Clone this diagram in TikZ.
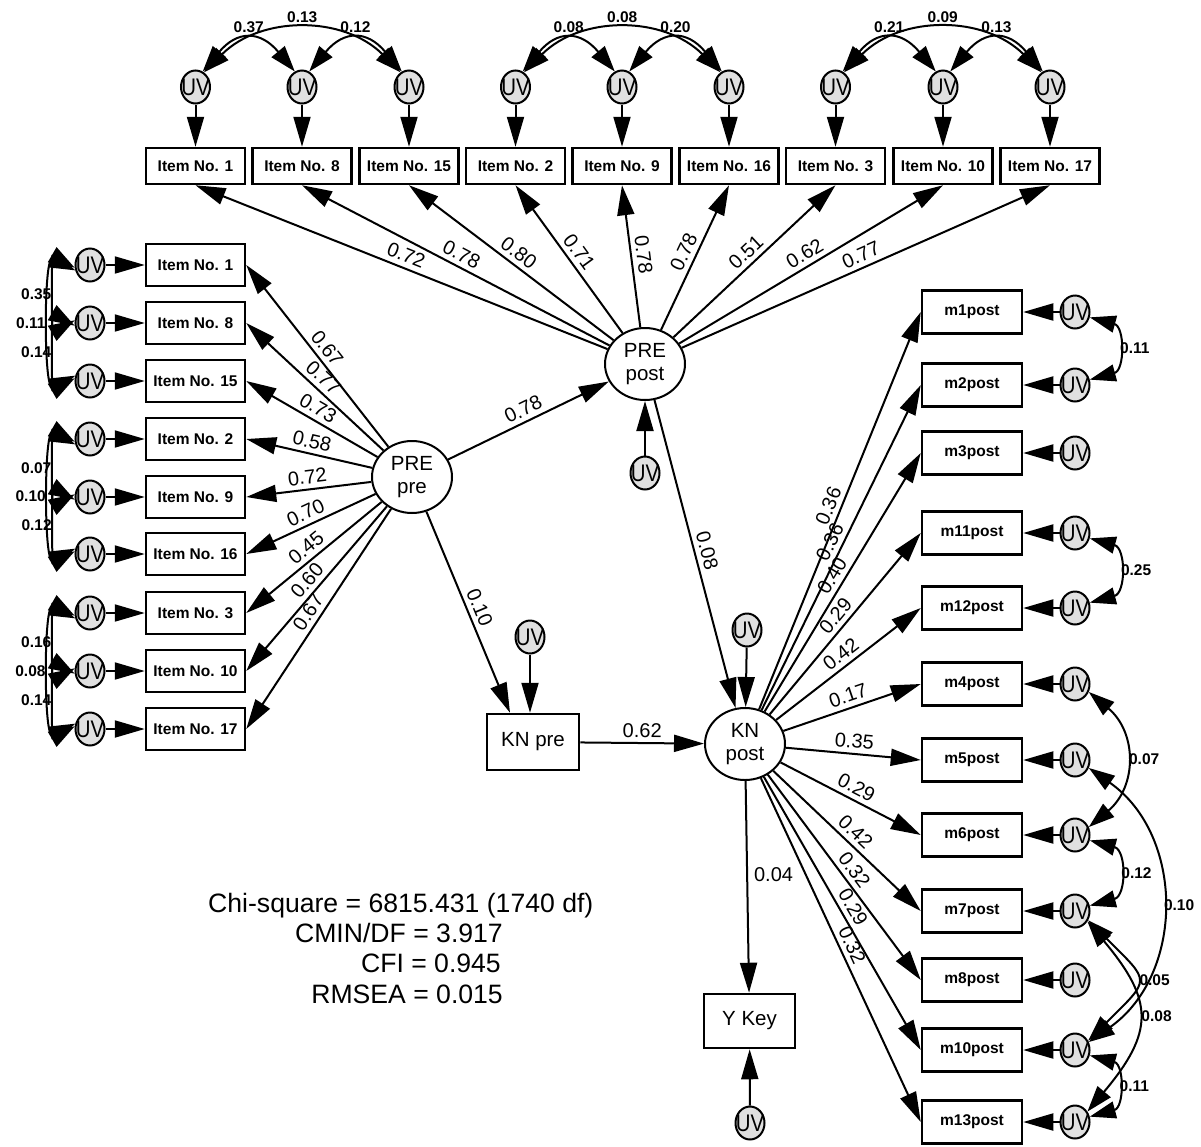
\documentclass[tikz,border=0pt]{standalone}
\usepackage{fontspec}
\setmainfont{Liberation Sans}
\usetikzlibrary{shapes.geometric,arrows.meta}
\definecolor{uvgray}{RGB}{224,224,224}
\newcommand{\uvtext}{\makebox[0pt]{\smash{\raisebox{-0.358em}{\scalebox{0.85}[1]{UV}}}}}
\begin{document}
\begin{tikzpicture}[x=1pt,y=-1pt,
  arr/.style={line width=2pt,-{Triangle[length=30pt,width=17pt]}},
  cov/.style={line width=2pt,{Triangle[length=26pt,width=17pt]}-{Triangle[length=26pt,width=17pt]}},
  boxbase/.style={draw,line width=2.5pt,inner sep=0pt,font=\bfseries\fontsize{15.5}{16}\selectfont},
  topbox/.style={boxbase,minimum width=99pt,minimum height=36pt},
  leftbox/.style={boxbase,minimum width=99pt,minimum height=42pt},
  mbox/.style={boxbase,minimum width=100pt,minimum height=43pt},
  kbox/.style={draw,line width=2.5pt,inner sep=0pt,font=\fontsize{20.5}{23}\selectfont},
  uv/.style={ellipse,draw,fill=uvgray,line width=2pt,minimum width=29pt,minimum height=33pt,inner sep=0pt,font=\fontsize{24}{24}\selectfont},
  lat/.style={ellipse,draw,line width=2pt,minimum width=80pt,minimum height=72pt,inner sep=0pt,align=center,font=\fontsize{20.5}{23}\selectfont},
  elab/.style={pos=0.5,sloped,above,inner sep=4.5pt,font=\fontsize{20}{20}\selectfont},
  clab/.style={inner sep=0pt,font=\bfseries\fontsize{15.5}{16}\selectfont},
  stat/.style={inner sep=0pt,font=\fontsize{26.6}{30}\selectfont}
]
\useasboundingbox (0,0) rectangle (1201,1146);

% latent variables and central boxes
\node[lat] (pp) at (412,477) {PRE\\pre};
\node[lat] (ppo) at (645,364) {PRE\\post};
\node[lat] (knp) at (745,744) {KN\\post};
\node[kbox,minimum width=92pt,minimum height=56pt] (kn) at (533,742) {KN pre};
\node[kbox,minimum width=91pt,minimum height=54pt] (yk) at (749.5,1021) {Y Key};
\node[uv] (uppo) at (645,473) {\uvtext};
\node[uv] (ukn) at (530,637) {\uvtext};
\node[uv] (uknp) at (747,630) {\uvtext};
\node[uv] (uyk) at (750,1123) {\uvtext};

% top items
\foreach \i/\x/\t/\v in {1/195.5/1/0.72, 2/302/8/0.78, 3/409/15/0.80, 4/515.5/2/0.71, 5/622/9/0.78, 6/729/16/0.78, 7/835.5/3/0.51, 8/943/10/0.62, 9/1050/17/0.77} {
  \node[topbox] (t\i) at (\x,166) {Item No. \t};
  \node[uv] (tu\i) at (\x,87) {\uvtext};
  \draw[arr] (tu\i) -- (t\i);
  \draw[arr] (ppo) -- (t\i.south) node[elab] {\v};
}
% top covariances
\foreach \a/\b/\c/\p/\q/\r in {1/2/3/0.37/0.13/0.12, 4/5/6/0.08/0.08/0.20, 7/8/9/0.21/0.09/0.13} {
  \draw[cov] (tu\a.65) to[out=50,in=130,looseness=1.5] node[clab,above=7pt] {\p} (tu\b.115);
  \draw[cov] (tu\a.60) to[out=45,in=135,looseness=1.05] node[clab,above=6pt] {\q} (tu\c.120);
  \draw[cov] (tu\b.65) to[out=50,in=130,looseness=1.5] node[clab,above=7pt] {\r} (tu\c.115);
}

% left items
\foreach \i/\y/\t/\v in {1/265/1/0.67, 2/323/8/0.77, 3/381/15/0.73, 4/439/2/0.58, 5/497/9/0.72, 6/554/16/0.70, 7/613/3/0.45, 8/671/10/0.60, 9/729/17/0.67} {
  \node[leftbox] (l\i) at (195.5,\y) {Item No. \t};
  \node[uv] (lu\i) at (90,\y) {\uvtext};
  \draw[arr] (lu\i) -- (l\i);
  \draw[arr] (pp) -- (l\i.east) node[elab] {\v};
}
% left covariances
\foreach \a/\b/\c/\p/\q/\r in {1/2/3/0.35/0.11/0.14, 4/5/6/0.07/0.10/0.12, 7/8/9/0.16/0.08/0.14} {
  \draw[cov] (lu\a.190) to[out=150,in=210,looseness=1.3] node[clab,left=5pt] {\p} (lu\b.170);
  \draw[cov] (lu\a.200) to[out=155,in=205,looseness=0.85] node[clab,left=5pt] {\q} (lu\c.160);
  \draw[cov] (lu\b.190) to[out=150,in=210,looseness=1.3] node[clab,left=5pt] {\r} (lu\c.170);
}

% right m boxes
\foreach \n/\y/\v in {1/312/0.36, 2/385/0.36, 3/453/0.40, 11/533/0.29, 12/608/0.42, 4/684/0.17, 5/760/0.35, 6/835/0.29, 7/911/0.42, 8/980/0.32, 10/1050/0.29, 13/1122/0.32} {
  \node[mbox] (m\n) at (972,\y) {m\n post};
  \node[uv] (um\n) at (1075,\y) {\uvtext};
  \draw[arr] (um\n) -- (m\n);
  \draw[arr] (knp) -- (m\n.west) node[elab] {\v};
}
% right covariances
\draw[cov] (um1.-20) to[out=-15,in=15,looseness=1.5] node[clab,right=3pt] {0.11} (um2.20);
\draw[cov] (um11.-20) to[out=-15,in=15,looseness=1.5] node[clab,right=3pt] {0.25} (um12.20);
\draw[cov] (um4.-30) to[out=-40,in=40,looseness=1.2] node[clab,right=3pt] {0.07} (um6.30);
\draw[cov] (um5.-30) to[out=-35,in=35,looseness=1.1] node[clab,right=2pt] {0.10} (um10.30);
\draw[cov] (um6.-20) to[out=-15,in=15,looseness=1.5] node[clab,right=3pt] {0.12} (um7.20);
\draw[cov] (um7.-35) to[out=-45,in=45,looseness=1.9] node[clab,right=3pt] {0.05} (um10.35);
\draw[cov] (um7.-40) to[out=-50,in=50,looseness=1.4] node[clab,right=3pt] {0.08} (um13.40);
\draw[cov] (um10.-20) to[out=-15,in=15,looseness=1.5] node[clab,right=3pt] {0.11} (um13.20);

% structural paths
\draw[arr] (pp) -- (ppo) node[elab] {0.78};
\draw[arr] (pp) -- ([xshift=-23pt]kn.north) node[elab] {0.10};
\draw[arr] (ppo) -- (knp) node[elab] {0.08};
\draw[arr] (kn) -- (knp) node[elab] {0.62};
\draw[arr] (knp) -- (yk) node[pos=0.44,right=6pt,inner sep=0pt,font=\fontsize{20}{20}\selectfont] {0.04};
\draw[arr] (uppo) -- (ppo);
\draw[arr] (ukn) -- (ukn |- kn.north);
\draw[arr] (uknp) -- (knp);
\draw[arr] (uyk) -- (yk);

% fit statistics
\node[stat,anchor=base west] (chi) at (208,912) {Chi-square = 6815.431 (1740 df)};
\node[stat,anchor=base east] (cmin) at (503,942) {CMIN/DF = 3.917};
\node[stat,anchor=base east] (cfi) at (501,972) {CFI = 0.945};
\node[stat,anchor=base east] (rmsea) at (503,1003) {RMSEA = 0.015};
\end{tikzpicture}
\end{document}
